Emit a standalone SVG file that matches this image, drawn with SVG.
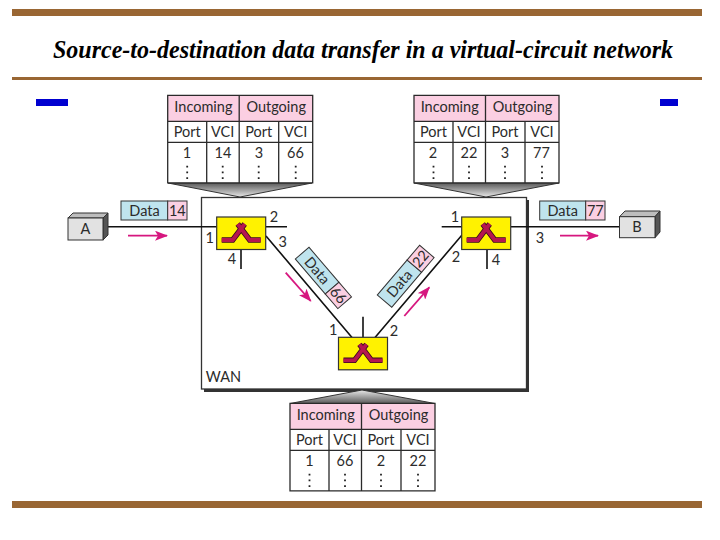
<svg xmlns="http://www.w3.org/2000/svg" width="720" height="540" viewBox="0 0 720 540">
<style>
text{font-family:"Lato","Open Sans","Liberation Sans",sans-serif;fill:#2b2b2b;font-size:14.5px;text-anchor:middle}
.title{font-family:"Liberation Serif",serif;font-size:24.5px;font-weight:bold;font-style:italic;fill:#000;text-anchor:start}
.bar{fill:#996633}.blue{fill:#0000d0}
.pink{fill:#fbcfe2}.cell{fill:#fff}
.ln{stroke:#2a2a2a;stroke-width:1.3;fill:none}
.wire{stroke:#111;stroke-width:1.6;fill:none}
.dots{stroke:#222;stroke-width:1.8;stroke-dasharray:1.8 3.9;fill:none}
.tag{stroke:#333;stroke-width:1}
.sky{fill:#bfe4ee}
.sw{fill:#fff200;stroke:#333;stroke-width:1.2}
.gl{fill:none;stroke:#3a0a1c;stroke-width:5.5}
.gi{fill:none;stroke:#b5164f;stroke-width:3.8}
.arr{stroke:#d6177f;stroke-width:1.8;fill:none;marker-end:url(#ah)}
.f{fill:#e2e2e2;stroke:#333;stroke-width:1}
.t{fill:#bdbdbd;stroke:#333;stroke-width:1}
.s{fill:#555;stroke:#333;stroke-width:1}
</style>
<defs>
<marker id="ah" markerUnits="userSpaceOnUse" markerWidth="14" markerHeight="10" refX="12" refY="5" orient="auto"><path d="M0,0L13,5L0,10L3,5Z" fill="#d6177f"/></marker>
<linearGradient id="fun" x1="0" y1="0" x2="0" y2="1"><stop offset="0" stop-color="#5a5a5a"/><stop offset="1" stop-color="#e8e8e8"/></linearGradient>
<linearGradient id="fun2" x1="0" y1="1" x2="0" y2="0"><stop offset="0" stop-color="#5a5a5a"/><stop offset="1" stop-color="#e8e8e8"/></linearGradient>
<g id="swb"><rect class="sw" width="49" height="32.5"/><path class="gl" d="M5,23H16L28,7M44,23H33L21,7"/><path class="gi" d="M5,23H16L28,7M44,23H33L21,7"/></g>
<g id="tbl"><rect class="pink" width="145" height="26"/><rect class="cell" y="26" width="145" height="61.5"/><path class="ln" d="M0,0H145V87.5H0ZM0,26H145M0,47H145M71.5,0V87.5M39,26V87.5M111,26V87.5"/><path class="dots" d="M19.5,70.5V84M55,70.5V84M91,70.5V84M128,70.5V84"/><text x="35.7" y="17">Incoming</text><text x="108.5" y="17">Outgoing</text><text x="19.5" y="42">Port</text><text x="55" y="42">VCI</text><text x="91" y="42">Port</text><text x="128" y="42">VCI</text></g>
</defs>
<rect width="720" height="540" fill="#fff"/>
<g id="frame">
<rect class="bar" x="12" y="9" width="690" height="7"/>
<rect class="bar" x="12" y="77" width="690" height="3"/>
<rect class="bar" x="12" y="501" width="690" height="7"/>
<rect class="blue" x="36" y="99" width="32" height="7"/>
<rect class="blue" x="660" y="99" width="18" height="7"/>
<text class="title" x="53" y="58" textLength="620" lengthAdjust="spacingAndGlyphs">Source-to-destination data transfer in a virtual-circuit network</text>
</g>
<g id="wan">
<rect x="204" y="200" width="325" height="192" fill="#333"/>
<rect x="201.5" y="197.5" width="325" height="191.5" fill="#fff" stroke="#333" stroke-width="1.3"/>
<text x="223.5" y="382">WAN</text>
</g>
<g id="connectors">
<path class="wire" d="M106,226.7H217M266,226.7H287M266,236L352,337.5M241,249.5V269M441.7,226.7H462M511,226.7H620M462,235L375,337.5M487,250V269M363,316.7V337.5"/>
<path class="arr" d="M128,235.7H167"/>
<path class="arr" d="M560,235.7H598"/>
<path class="arr" d="M285.7,272.7L310.7,301"/>
<path class="arr" d="M404.3,316L429.3,287.3"/>
</g>
<g id="table-1"><path d="M168,183H312L240,197Z" fill="url(#fun)" stroke="#333"/><use href="#tbl" x="167.7" y="95.3"/>
<text x="187" y="158">1</text><text x="223" y="158">14</text><text x="259" y="158">3</text><text x="295.5" y="158">66</text></g>
<g id="table-2"><path d="M414,183H559L486,197Z" fill="url(#fun)" stroke="#333"/><use href="#tbl" x="414" y="95.3"/>
<text x="433" y="158">2</text><text x="469" y="158">22</text><text x="505" y="158">3</text><text x="541.5" y="158">77</text></g>
<g id="table-3"><path d="M290,403.5H435L362,390Z" fill="url(#fun2)" stroke="#333"/><use href="#tbl" x="290" y="403.3"/>
<text x="309.5" y="466">1</text><text x="345" y="466">66</text><text x="381" y="466">2</text><text x="418" y="466">22</text></g>
<g id="host-A"><path class="t" d="M68,218L73,213H108L103,218Z"/><path class="s" d="M103,218L108,213V235L103,240Z"/><rect class="f" x="68" y="218" width="35" height="22"/><text x="85.5" y="234">A</text></g>
<g id="host-B"><path class="t" d="M619.5,216.7L625,211H660L655,216.7Z"/><path class="s" d="M655,216.7L660,211V232L655,237.7Z"/><rect class="f" x="619.5" y="216.7" width="35.5" height="21"/><text x="637" y="232">B</text></g>
<g id="switch-1"><use href="#swb" x="216.7" y="217"/><text x="209.7" y="243">1</text><text x="274" y="222">2</text><text x="282.7" y="247">3</text><text x="232" y="264">4</text></g>
<g id="switch-2"><use href="#swb" x="461.7" y="217"/><text x="455" y="222">1</text><text x="456" y="262">2</text><text x="540" y="243">3</text><text x="496" y="265">4</text></g>
<g id="switch-3"><use href="#swb" x="338.5" y="337.3"/><text x="333.3" y="335">1</text><text x="394" y="336">2</text></g>
<g id="packet-14"><rect class="sky tag" x="121" y="201" width="46.7" height="19"/><rect class="pink tag" x="167.7" y="201" width="19.3" height="19"/><text x="144.5" y="216">Data</text><text x="177.3" y="216">14</text></g>
<g id="packet-77"><rect class="sky tag" x="539.7" y="201" width="46" height="19"/><rect class="pink tag" x="585.7" y="201" width="19.3" height="19"/><text x="562.7" y="216">Data</text><text x="595.3" y="216">77</text></g>
<g id="packet-66" transform="translate(309,247.3) rotate(49.4)"><rect class="sky tag" x="0" y="0" width="46" height="18" /><rect class="pink tag" x="46" y="0" width="19.3" height="18"/><text x="23" y="14">Data</text><text x="55.6" y="14">66</text></g>
<g id="packet-22" transform="translate(377.3,295) rotate(-49.6)"><rect class="sky tag" x="0" y="0" width="46" height="19"/><rect class="pink tag" x="46" y="0" width="19.3" height="19"/><text x="23" y="14.5">Data</text><text x="55.6" y="14.5">22</text></g>
</svg>
